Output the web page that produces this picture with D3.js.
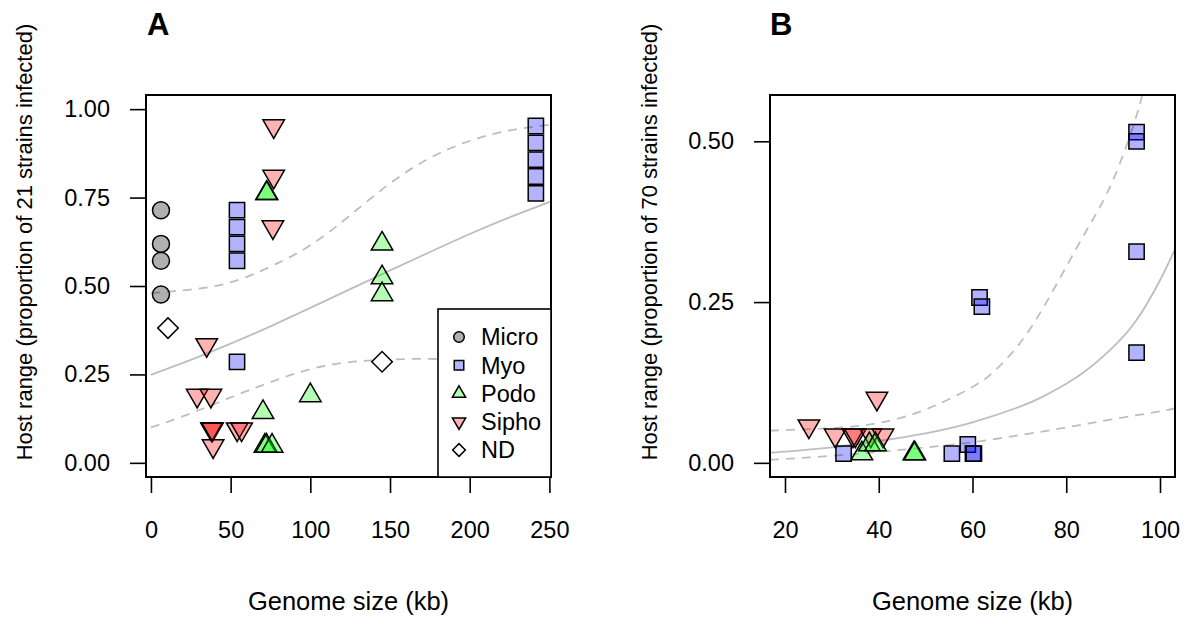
<!DOCTYPE html>
<html>
<head>
<meta charset="utf-8">
<script src="https://cdn.jsdelivr.net/npm/d3@7"></script>
<style>
  body { margin: 0; background: #fff; }
  svg text { font-family: "Liberation Sans", Arial, Helvetica, sans-serif; fill: #000; }
</style>
</head>
<body>
<div id="chart"></div>
<script>
// ---- data (genome size in kb, number of strains infected) ----
var microA = [[6.3, 15], [6.3, 13], [6.3, 12], [6.3, 10]];
var myoA = [[54, 15], [54, 14], [54, 13], [54, 12], [54, 6],
    [241.5, 20], [241.5, 19], [241.5, 18], [241.5, 17], [241.5, 16]];
var siphoA = [[77, 20], [77, 17], [76.5, 14], [35, 7], [29, 4], [37.6, 4],
    [38, 2], [38.3, 2], [38.6, 2], [39, 1], [54.1, 2], [56.9, 2]];
var podoA = [[72.8, 16], [72.5, 16], [145, 13], [145, 11], [145, 10], [100, 4],
    [70.3, 3], [71.5, 1], [72.5, 1], [76, 1]];
var ndA = [[10.7, 8], [145, 6]];

var myoB = [[95, 36], [95, 35], [95, 23], [95, 12], [61.5, 18], [62, 17],
    [32.5, 1], [55.6, 1], [59, 2], [60.1, 1], [60.3, 1]];
var siphoB = [[25.1, 4], [39.6, 7], [30.7, 3], [34.5, 3], [35, 3], [38.3, 3], [40.9, 3]];
var podoB = [[47.5, 1], [47.7, 1], [36.4, 1], [38, 2], [39.3, 2]];

// fitted curves: [kb, proportion]
var fitA = [[0, 0.249], [25, 0.291], [50, 0.337], [75, 0.386], [100, 0.438], [125, 0.491],
    [150, 0.544], [175, 0.596], [200, 0.647], [225, 0.694], [251, 0.739]];
var upperA = [[0, 0.48], [25, 0.49], [50, 0.51], [75, 0.555], [100, 0.615], [125, 0.7],
    [150, 0.79], [175, 0.862], [200, 0.91], [225, 0.94], [251, 0.956]];
var lowerA = [[0, 0.10], [25, 0.14], [50, 0.185], [75, 0.228], [100, 0.265], [125, 0.285],
    [150, 0.292], [175, 0.294], [200, 0.29], [225, 0.285], [251, 0.28]];

var fitB = [[16.8, 0.016], [20, 0.0175], [30, 0.024], [40, 0.034], [50, 0.046], [60, 0.063],
    [70, 0.087], [75, 0.103], [80, 0.123], [85, 0.148], [90, 0.18], [95, 0.222], [100, 0.284],
    [103.2, 0.332]];
var upperB = [[16.8, 0.05], [20, 0.051], [30, 0.054], [40, 0.062], [50, 0.083], [60, 0.118],
    [65, 0.145], [70, 0.185], [75, 0.24], [80, 0.305], [85, 0.37], [90, 0.44], [95, 0.54],
    [97, 0.6]];
var lowerB = [[16.8, 0.005], [20, 0.006], [30, 0.011], [40, 0.017], [50, 0.024], [60, 0.032],
    [70, 0.043], [80, 0.055], [90, 0.068], [100, 0.08], [103.2, 0.085]];

var ticksAx = [0, 50, 100, 150, 200, 250];
var ticksAy = [0, 0.25, 0.5, 0.75, 1];
var ticksBx = [20, 40, 60, 80, 100];
var ticksBy = [0, 0.25, 0.5];

var legendLabels = ["Micro", "Myo", "Podo", "Sipho", "ND"];

var fills = {
    micro: "rgba(0,0,0,0.31)",
    myo: "rgba(0,0,255,0.3)",
    podo: "rgba(0,255,0,0.3)",
    sipho: "rgba(255,0,0,0.3)",
    nd: "#ffffff"
};

var draw_fig = {
    svg: 0,
    top: 95,
    bottom: 477,

    initialize: function() {
        var self = this;
        self.svg = d3.select("#chart").append("svg")
            .attr("width", 1190)
            .attr("height", 617);
        self.svg.append("rect").attr("width", 1190).attr("height", 617).attr("fill", "#fff");

        self.panel({
            left: 146, right: 551, label: "A", labelX: 147, titleX: 32, strains: 21,
            xdom: [-3.1, 251], ydom: [-0.04, 1.04],
            xt: ticksAx, yt: ticksAy, yfmt: d3.format(".2f"),
            fit: fitA, upper: upperA, lower: lowerA,
            sets: [["micro", microA], ["myo", myoA], ["sipho", siphoA], ["podo", podoA], ["nd", ndA]],
            legend: true
        });
        self.panel({
            left: 770, right: 1175, label: "B", labelX: 770, titleX: 657, strains: 70,
            xdom: [16.8, 103.2], ydom: [-0.022, 0.572],
            xt: ticksBx, yt: ticksBy, yfmt: d3.format(".2f"),
            fit: fitB, upper: upperB, lower: lowerB,
            sets: [["myo", myoB], ["sipho", siphoB], ["podo", podoB]],
            legend: false
        });
    },

    shape: function(type, big) {
        var k = big ? 1 : 0.62;
        if (type === "micro") return d3.symbol(d3.symbolCircle, Math.PI * Math.pow(8.5 * k, 2))();
        if (type === "myo") return d3.symbol(d3.symbolSquare, Math.pow(15.3 * k, 2))();
        if (type === "nd") return d3.symbol(d3.symbolSquare, Math.pow(14.5 * k, 2))();
        var hy = 21.5 * k / (2 * Math.sqrt(3));
        return d3.symbol(d3.symbolTriangle, 3 * Math.sqrt(3) * hy * hy)();
    },
    rot: function(type) {
        if (type === "sipho") return " rotate(180)";
        if (type === "nd") return " rotate(45)";
        return "";
    },

    panel: function(p) {
        var self = this;
        var svg = self.svg;
        var x = d3.scaleLinear().domain(p.xdom).range([p.left, p.right]);
        var y = d3.scaleLinear().domain(p.ydom).range([self.bottom, self.top]);
        var clipId = "clip" + p.label;

        svg.append("clipPath").attr("id", clipId)
            .append("rect")
            .attr("x", p.left).attr("y", self.top)
            .attr("width", p.right - p.left).attr("height", self.bottom - self.top);

        // axes
        var xAxis = d3.axisBottom(x).tickValues(p.xt).tickSize(16).tickPadding(28).tickFormat(d3.format("d"));
        var yAxis = d3.axisLeft(y).tickValues(p.yt).tickSize(16).tickPadding(20).tickFormat(p.yfmt);

        var gx = svg.append("g")
            .attr("transform", "translate(0," + self.bottom + ")")
            .call(xAxis);
        var gy = svg.append("g")
            .attr("transform", "translate(" + p.left + ",0)")
            .call(yAxis);
        [gx, gy].forEach(function(g) {
            g.select(".domain").remove();
            g.selectAll("line").attr("stroke", "#000").attr("stroke-width", 1.6);
            g.selectAll("text").style("font-size", "23.5px").attr("fill", "#000");
        });

        // fitted curves
        var line = d3.line()
            .x(function(d) { return x(d[0]); })
            .y(function(d) { return y(d[1]); })
            .curve(d3.curveNatural);
        var curves = svg.append("g").attr("clip-path", "url(#" + clipId + ")");
        curves.append("path").datum(p.fit)
            .attr("d", line).attr("fill", "none")
            .attr("stroke", "#bebebe").attr("stroke-width", 1.8);
        [p.upper, p.lower].forEach(function(c) {
            curves.append("path").datum(c)
                .attr("d", line).attr("fill", "none")
                .attr("stroke", "#bebebe").attr("stroke-width", 1.8)
                .attr("stroke-dasharray", "9,7");
        });

        // points
        var pts = svg.append("g");
        p.sets.forEach(function(s) {
            var type = s[0];
            pts.selectAll("path.pt-" + type)
                .data(s[1])
                .enter().append("path")
                .attr("class", "pt-" + type)
                .attr("d", self.shape(type, true))
                .attr("transform", function(d) {
                    return "translate(" + x(d[0]) + "," + y(d[1] / p.strains) + ")" + self.rot(type);
                })
                .attr("fill", fills[type])
                .attr("stroke", "#000")
                .attr("stroke-width", 1.5);
        });

        // box
        svg.append("rect")
            .attr("x", p.left).attr("y", self.top)
            .attr("width", p.right - p.left).attr("height", self.bottom - self.top)
            .attr("fill", "none").attr("stroke", "#000").attr("stroke-width", 2);

        if (p.legend) {
            var lx = 438, ly = 309;
            var lg = svg.append("g");
            lg.append("rect")
                .attr("x", lx).attr("y", ly)
                .attr("width", p.right - lx).attr("height", self.bottom - ly)
                .attr("fill", "#fff").attr("stroke", "#000").attr("stroke-width", 1.6);
            var types = ["micro", "myo", "podo", "sipho", "nd"];
            var rowY = d3.scalePoint().domain(legendLabels).range([337, 450]);
            legendLabels.forEach(function(lab, i) {
                var t = types[i];
                lg.append("path")
                    .attr("d", self.shape(t, false))
                    .attr("transform", "translate(459," + rowY(lab) + ")" + self.rot(t))
                    .attr("fill", fills[t]).attr("stroke", "#000").attr("stroke-width", 1.5);
                lg.append("text")
                    .attr("x", 481).attr("y", rowY(lab))
                    .attr("dy", "0.36em")
                    .style("font-size", "23.5px")
                    .text(lab);
            });
        }

        // titles
        svg.append("text")
            .attr("x", (p.left + p.right) / 2).attr("y", 610)
            .attr("text-anchor", "middle")
            .style("font-size", "25.5px")
            .text("Genome size (kb)");
        svg.append("text")
            .attr("transform", "translate(" + p.titleX + "," + 242 + ") rotate(-90)")
            .attr("text-anchor", "middle")
            .style("font-size", "22px")
            .text("Host range (proportion of " + p.strains + " strains infected)");
        svg.append("text")
            .attr("x", p.labelX).attr("y", 35)
            .style("font-size", "31px").style("font-weight", "bold")
            .text(p.label);
    }
};

draw_fig.initialize();
</script>
</body>
</html>
